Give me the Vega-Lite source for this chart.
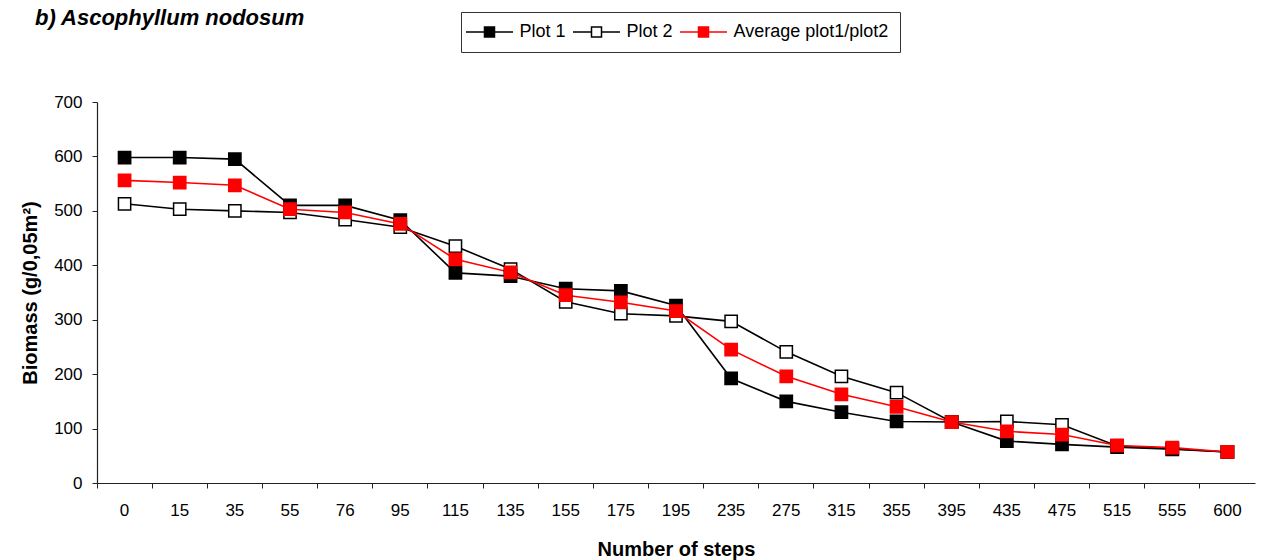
{
  "$schema": "https://vega.github.io/schema/vega-lite/v6.json",
  "autosize": "none",
  "width": 1158,
  "height": 381,
  "padding": {"left": 97, "top": 102, "right": 18, "bottom": 77},
  "background": "white",
  "config": {
    "view": {"stroke": null},
    "font": "Liberation Sans",
    "axis": {"grid": false, "domainColor": "#222", "tickColor": "#222", "labelColor": "#000", "titleColor": "#000", "labelFontSize": 17, "titleFontSize": 20, "titleFontWeight": "bold", "labelFont": "Liberation Sans", "titleFont": "Liberation Sans"}
  },
  "title": {"text": "b) Ascophyllum nodosum", "anchor": "start", "frame": "group", "dx": -62, "offset": -18, "fontSize": 22, "fontWeight": "bold", "fontStyle": "italic", "font": "Liberation Sans", "color": "#000"},
  "datasets": {
    "d": [
      {"step": "0", "series": "Plot 1", "biomass": 598},
      {"step": "15", "series": "Plot 1", "biomass": 598},
      {"step": "35", "series": "Plot 1", "biomass": 595},
      {"step": "55", "series": "Plot 1", "biomass": 510},
      {"step": "76", "series": "Plot 1", "biomass": 510},
      {"step": "95", "series": "Plot 1", "biomass": 483},
      {"step": "115", "series": "Plot 1", "biomass": 386},
      {"step": "135", "series": "Plot 1", "biomass": 380},
      {"step": "155", "series": "Plot 1", "biomass": 357},
      {"step": "175", "series": "Plot 1", "biomass": 353},
      {"step": "195", "series": "Plot 1", "biomass": 326},
      {"step": "235", "series": "Plot 1", "biomass": 192},
      {"step": "275", "series": "Plot 1", "biomass": 150},
      {"step": "315", "series": "Plot 1", "biomass": 130},
      {"step": "355", "series": "Plot 1", "biomass": 113},
      {"step": "395", "series": "Plot 1", "biomass": 112},
      {"step": "435", "series": "Plot 1", "biomass": 77},
      {"step": "475", "series": "Plot 1", "biomass": 71},
      {"step": "515", "series": "Plot 1", "biomass": 66},
      {"step": "555", "series": "Plot 1", "biomass": 62},
      {"step": "600", "series": "Plot 1", "biomass": 57},
      {"step": "0", "series": "Plot 2", "biomass": 513},
      {"step": "15", "series": "Plot 2", "biomass": 503},
      {"step": "35", "series": "Plot 2", "biomass": 500},
      {"step": "55", "series": "Plot 2", "biomass": 497},
      {"step": "76", "series": "Plot 2", "biomass": 484},
      {"step": "95", "series": "Plot 2", "biomass": 470},
      {"step": "115", "series": "Plot 2", "biomass": 435},
      {"step": "135", "series": "Plot 2", "biomass": 393},
      {"step": "155", "series": "Plot 2", "biomass": 333},
      {"step": "175", "series": "Plot 2", "biomass": 311},
      {"step": "195", "series": "Plot 2", "biomass": 307},
      {"step": "235", "series": "Plot 2", "biomass": 297},
      {"step": "275", "series": "Plot 2", "biomass": 241},
      {"step": "315", "series": "Plot 2", "biomass": 196},
      {"step": "355", "series": "Plot 2", "biomass": 166},
      {"step": "395", "series": "Plot 2", "biomass": 112},
      {"step": "435", "series": "Plot 2", "biomass": 113},
      {"step": "475", "series": "Plot 2", "biomass": 107},
      {"step": "515", "series": "Plot 2", "biomass": 68},
      {"step": "555", "series": "Plot 2", "biomass": 63},
      {"step": "600", "series": "Plot 2", "biomass": 57},
      {"step": "0", "series": "Average plot1/plot2", "biomass": 556},
      {"step": "15", "series": "Average plot1/plot2", "biomass": 552},
      {"step": "35", "series": "Average plot1/plot2", "biomass": 547},
      {"step": "55", "series": "Average plot1/plot2", "biomass": 503},
      {"step": "76", "series": "Average plot1/plot2", "biomass": 497},
      {"step": "95", "series": "Average plot1/plot2", "biomass": 476},
      {"step": "115", "series": "Average plot1/plot2", "biomass": 411},
      {"step": "135", "series": "Average plot1/plot2", "biomass": 387},
      {"step": "155", "series": "Average plot1/plot2", "biomass": 345},
      {"step": "175", "series": "Average plot1/plot2", "biomass": 332},
      {"step": "195", "series": "Average plot1/plot2", "biomass": 316},
      {"step": "235", "series": "Average plot1/plot2", "biomass": 245},
      {"step": "275", "series": "Average plot1/plot2", "biomass": 196},
      {"step": "315", "series": "Average plot1/plot2", "biomass": 163},
      {"step": "355", "series": "Average plot1/plot2", "biomass": 140},
      {"step": "395", "series": "Average plot1/plot2", "biomass": 112},
      {"step": "435", "series": "Average plot1/plot2", "biomass": 95},
      {"step": "475", "series": "Average plot1/plot2", "biomass": 89},
      {"step": "515", "series": "Average plot1/plot2", "biomass": 69},
      {"step": "555", "series": "Average plot1/plot2", "biomass": 65},
      {"step": "600", "series": "Average plot1/plot2", "biomass": 57}
    ]
  },
  "data": {"name": "d"},
  "encoding": {
    "x": {"field": "step", "type": "ordinal", "sort": null,
      "scale": {"type": "band", "paddingInner": 0, "paddingOuter": 0},
      "axis": {"title": "Number of steps", "labelAngle": 0, "bandPosition": 0, "labelPadding": 14, "titlePadding": 21, "tickSize": 5, "domainWidth": 1.2}},
    "y": {"field": "biomass", "type": "quantitative",
      "scale": {"domain": [0, 700], "nice": false},
      "axis": {"title": "Biomass (g/0,05m²)", "values": [0, 100, 200, 300, 400, 500, 600, 700], "tickSize": 5, "labelPadding": 10, "titlePadding": 13, "domainWidth": 1.2}},
    "stroke": {"field": "series", "type": "nominal",
      "scale": {"domain": ["Plot 1", "Plot 2", "Average plot1/plot2"], "range": ["#000000", "#000000", "#ff0000"]},
      "legend": {"title": null, "orient": "none", "legendX": 364, "legendY": -90, "direction": "horizontal",
        "symbolType": "M-4.7,0H-1M1,0H4.7M-1,-1H1V1H-1Z", "symbolSize": 100, "symbolStrokeWidth": 1.5,
        "labelFontSize": 18, "labelFont": "Liberation Sans", "labelColor": "#000", "columnPadding": 4, "symbolOffset": 8.5, "labelOffset": 21,
        "strokeColor": "#333", "padding": 11, "fillColor": "white", "symbolLimit": 0}},
    "fill": {"field": "series", "type": "nominal",
      "scale": {"domain": ["Plot 1", "Plot 2", "Average plot1/plot2"], "range": ["#000000", "#ffffff", "#ff0000"]},
      "legend": {"title": null, "orient": "none", "legendX": 364, "legendY": -90, "direction": "horizontal",
        "symbolType": "M-4.7,0H-1M1,0H4.7M-1,-1H1V1H-1Z", "symbolSize": 100, "symbolStrokeWidth": 1.5,
        "labelFontSize": 18, "labelFont": "Liberation Sans", "labelColor": "#000", "columnPadding": 4, "symbolOffset": 8.5, "labelOffset": 21,
        "strokeColor": "#333", "padding": 11, "fillColor": "white", "symbolLimit": 0}}
  },
  "layer": [
    {"mark": {"type": "line", "strokeWidth": 1.6}, "encoding": {"fill": {"value": null}}},
    {"mark": {"type": "point", "shape": "square", "filled": true, "size": 150, "strokeWidth": 1.5, "opacity": 1}}
  ]
}
